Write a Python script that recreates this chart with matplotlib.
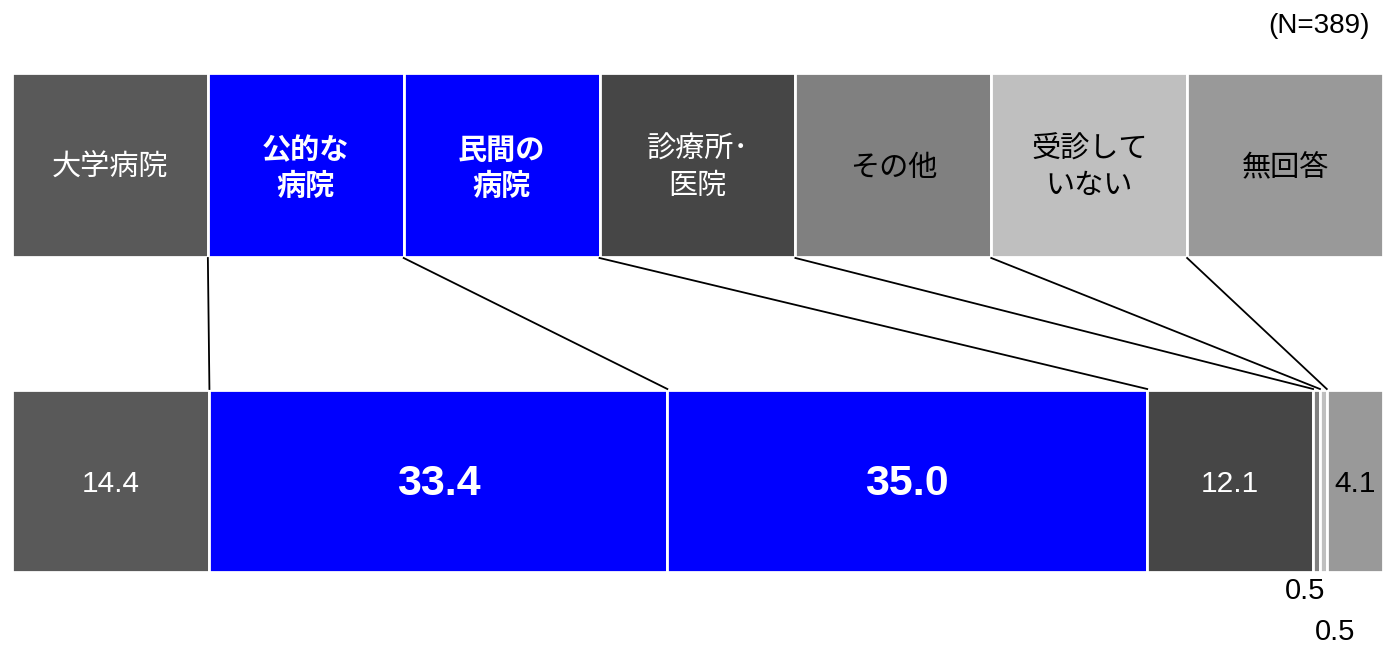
import matplotlib
matplotlib.use("Agg")
import matplotlib.pyplot as plt
import numpy as np

categories = ["大学病院", "公的な\n病院", "民間の\n病院", "診療所･\n医院", "その他", "受診して\nいない", "無回答"]
values = [14.4, 33.4, 35.0, 12.1, 0.5, 0.5, 4.1]
value_labels = ["14.4", "33.4", "35.0", "12.1", "0.5", "0.5", "4.1"]
colors = ["#595959", "#0000FF", "#0000FF", "#464646", "#808080", "#BFBFBF", "#999999"]
text_colors = ["white", "white", "white", "white", "black", "black", "black"]
bold = [False, True, True, False, False, False, False]
n_label = "(N=389)"

W, H = 1383, 645
fig = plt.figure(figsize=(W / 100, H / 100), dpi=100)
ax = fig.add_axes([0, 0, 1, 1])
scale = 1371 / 100.0
ax.set_xlim(-12 / scale, 100)
ax.set_ylim(H, 0)
ax.axis("off")

jp = ["Noto Sans CJK JP", "DejaVu Sans"]
num = ["Liberation Sans", "DejaVu Sans"]

n = len(categories)
hw = 100.0 / n
hx = np.arange(n) * hw + hw / 2
ax.bar(hx, 184, bottom=73, width=hw, color=colors, edgecolor="white", linewidth=2)
for i, c in enumerate(categories):
    ax.text(hx[i], 168, c, ha="center", va="center", color=text_colors[i],
            fontsize=21, family=jp, fontweight="bold" if bold[i] else "normal",
            linespacing=1.25)

lefts = np.concatenate([[0], np.cumsum(values)[:-1]])
ax.barh(481, values, left=lefts, height=182, color=colors, edgecolor="white", linewidth=2)

for i in range(1, n):
    ax.plot([i * hw, lefts[i]], [258, 389], color="black", lw=1.3)

for i, v in enumerate(values):
    cx = lefts[i] + v / 2
    if v >= 2:
        if bold[i]:
            ax.text(cx, 484, value_labels[i], ha="center", va="center", color=text_colors[i],
                    fontsize=31, family=num, fontweight="bold")
        else:
            ax.text(cx, 484, value_labels[i], ha="center", va="center", color=text_colors[i],
                    fontsize=21.5, family=num)

small = [i for i, v in enumerate(values) if v < 2]
for k, i in enumerate(small):
    cx = lefts[i] + values[i] / 2
    ax.text(cx + (k - 0.5) * 1.7, 591 + 41 * k, value_labels[i], ha="center", va="center",
            color="black", fontsize=21, family=num)

ax.text(1370 / scale - 12 / scale, 26, n_label, ha="right", va="center", color="black",
        fontsize=20, family=num)

fig.savefig("out.png", dpi=100)
